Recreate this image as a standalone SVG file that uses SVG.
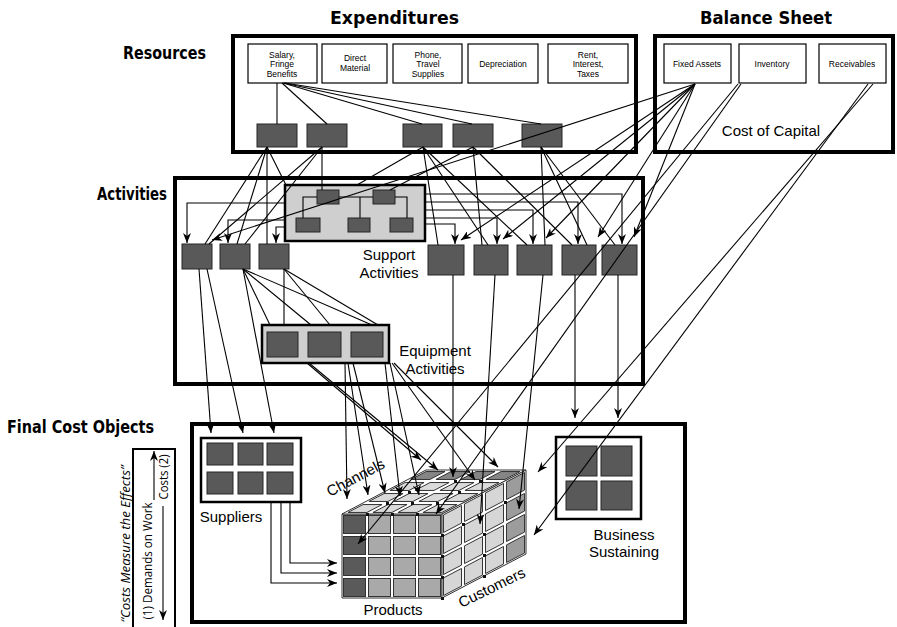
<svg xmlns="http://www.w3.org/2000/svg" width="897" height="627" viewBox="0 0 897 627">
<defs>
<style>
.box{fill:#fff;stroke:#000;stroke-width:4}
.item{fill:#fff;stroke:#000;stroke-width:1.2}
.dk{fill:#595959;stroke:#262626;stroke-width:1}
.grp{fill:#cfcfcf;stroke:#000;stroke-width:2.5}
.wgrp{fill:#fff;stroke:#000;stroke-width:2.5}
.thin{fill:none;stroke:#000;stroke-width:2}
.sm{font-family:"Liberation Sans","Open Sans",sans-serif;font-size:8.5px;text-anchor:middle;fill:#000}
.lbl{font-family:"Liberation Sans","Open Sans",sans-serif;font-size:15px;text-anchor:middle;fill:#000}
.side{font-family:"Open Sans","Noto Sans",sans-serif;font-size:13px;text-anchor:middle;fill:#000}
.ttl{font-family:"DejaVu Sans Condensed","DejaVu Sans",sans-serif;font-weight:bold;font-size:17px;fill:#000}
.face{fill:#fff;stroke:#333;stroke-width:1}
.cl{stroke:#333;stroke-width:1;vector-effect:non-scaling-stroke}
.c path{fill:none;stroke:#000;stroke-width:1.1}
.c .a{marker-end:url(#ah)}
.dot{fill:#111}
</style>
<marker id="ah" viewBox="0 0 10 8" refX="10" refY="4" markerWidth="10" markerHeight="8" orient="auto" markerUnits="userSpaceOnUse">
<path d="M0,0 L10,4 L0,8 L3,4 z" fill="#000"/>
</marker>
</defs>
<rect width="897" height="627" fill="#fff"/>

<!-- Titles -->
<g id="titles">
<text class="ttl" x="330" y="24" textLength="129" lengthAdjust="spacingAndGlyphs">Expenditures</text>
<text class="ttl" x="700" y="24" textLength="132" lengthAdjust="spacingAndGlyphs">Balance Sheet</text>
<text class="ttl" x="123" y="59" textLength="83" lengthAdjust="spacingAndGlyphs">Resources</text>
<text class="ttl" x="97" y="200" textLength="70" lengthAdjust="spacingAndGlyphs">Activities</text>
<text class="ttl" x="7" y="433" textLength="147" lengthAdjust="spacingAndGlyphs">Final Cost Objects</text>
</g>

<!-- Resources -->
<g id="resources">
<rect class="box" x="233" y="36" width="403" height="116"/>
<rect class="item" x="248" y="44" width="69" height="39"/>
<text class="sm" x="282" y="57.5">Salary,</text>
<text class="sm" x="282" y="67">Fringe</text>
<text class="sm" x="282" y="76.5">Benefits</text>
<rect class="item" x="322" y="44" width="65" height="39"/>
<text class="sm" x="355" y="61">Direct</text>
<text class="sm" x="355" y="70.5">Material</text>
<rect class="item" x="393" y="44" width="69" height="39"/>
<text class="sm" x="428" y="57.5">Phone,</text>
<text class="sm" x="428" y="67">Travel</text>
<text class="sm" x="428" y="76.5">Supplies</text>
<rect class="item" x="468" y="44" width="70" height="39"/>
<text class="sm" x="503" y="67" font-size="9.5">Depreciation</text>
<rect class="item" x="548" y="44" width="80" height="39"/>
<text class="sm" x="588" y="57.5">Rent,</text>
<text class="sm" x="588" y="67">Interest,</text>
<text class="sm" x="588" y="76.5">Taxes</text>
<rect class="dk" x="257" y="124" width="40" height="23"/>
<rect class="dk" x="307" y="124" width="40" height="23"/>
<rect class="dk" x="403" y="124" width="39" height="23"/>
<rect class="dk" x="453" y="124" width="40" height="23"/>
<rect class="dk" x="522" y="124" width="40" height="23"/>
</g>

<!-- Balance sheet -->
<g id="balance-sheet">
<rect class="box" x="655" y="36" width="238" height="116"/>
<rect class="item" x="664" y="44" width="67" height="39"/>
<text class="sm" x="697" y="67" font-size="9.5">Fixed Assets</text>
<rect class="item" x="739" y="44" width="67" height="39"/>
<text class="sm" x="772" y="67" font-size="9.5">Inventory</text>
<rect class="item" x="819" y="44" width="67" height="39"/>
<text class="sm" x="852" y="67" font-size="9.5">Receivables</text>
<text class="lbl" x="771" y="136">Cost of Capital</text>
</g>

<!-- Activities -->
<g id="activities">
<rect class="box" x="175" y="178" width="468" height="206"/>
<rect class="dk" x="182" y="244" width="30" height="25"/>
<rect class="dk" x="220" y="244" width="30" height="25"/>
<rect class="dk" x="259" y="244" width="30" height="25"/>
<rect class="dk" x="428" y="245" width="36" height="30"/>
<rect class="dk" x="474" y="245" width="34" height="30"/>
<rect class="dk" x="517" y="245" width="35" height="30"/>
<rect class="dk" x="562" y="245" width="34" height="30"/>
<rect class="dk" x="602" y="245" width="35" height="30"/>
</g>

<g id="support-activities">
<rect class="grp" x="285" y="185" width="140" height="56"/>
<rect class="dk" x="317" y="190" width="22" height="14"/>
<rect class="dk" x="373" y="190" width="22" height="14"/>
<rect class="dk" x="296" y="218" width="24" height="14"/>
<rect class="dk" x="348" y="218" width="22" height="14"/>
<rect class="dk" x="390" y="218" width="23" height="14"/>
<text class="lbl" x="389" y="260">Support</text>
<text class="lbl" x="389" y="278">Activities</text>
</g>

<g id="equipment-activities">
<rect class="grp" x="262" y="325" width="127" height="38"/>
<rect class="dk" x="267" y="332" width="31" height="25"/>
<rect class="dk" x="308" y="332" width="33" height="25"/>
<rect class="dk" x="351" y="332" width="32" height="25"/>
<text class="lbl" x="435" y="356">Equipment</text>
<text class="lbl" x="435" y="374">Activities</text>
</g>

<!-- Final cost objects -->
<g id="final-cost-objects">
<rect class="box" x="192" y="424" width="493" height="198"/>
</g>

<g id="suppliers">
<rect class="wgrp" x="201" y="438" width="100" height="64"/>
<rect class="dk" x="207" y="443" width="26" height="22"/>
<rect class="dk" x="238" y="443" width="25" height="22"/>
<rect class="dk" x="267" y="443" width="26" height="22"/>
<rect class="dk" x="207" y="472" width="26" height="22"/>
<rect class="dk" x="238" y="472" width="25" height="22"/>
<rect class="dk" x="267" y="472" width="26" height="22"/>
<text class="lbl" x="231" y="522">Suppliers</text>
</g>

<g id="business-sustaining">
<rect class="wgrp" x="556" y="437" width="85" height="82"/>
<rect class="dk" x="566" y="446" width="31" height="30"/>
<rect class="dk" x="601" y="446" width="31" height="30"/>
<rect class="dk" x="566" y="481" width="31" height="29"/>
<rect class="dk" x="601" y="481" width="31" height="29"/>
<text class="lbl" x="624" y="540">Business</text>
<text class="lbl" x="624" y="557">Sustaining</text>
</g>

<g id="cube">
<polygon class="face" points="342,514 442,514 442,598 342,598"/>
<polygon class="face" points="342,514 426,470 526,470 442,514"/>
<polygon class="face" points="442,514 526,470 526,554 442,598"/>
<g stroke="#333" stroke-width="1">
<rect x="343.5" y="515.5" width="22" height="18" fill="#5a5a5a"/>
<rect x="343.5" y="536.5" width="22" height="18" fill="#5a5a5a"/>
<rect x="343.5" y="557.5" width="22" height="18" fill="#5a5a5a"/>
<rect x="343.5" y="578.5" width="22" height="18" fill="#5a5a5a"/>
<rect x="368.5" y="515.5" width="22" height="18" fill="#a9a9a9"/>
<rect x="368.5" y="536.5" width="22" height="18" fill="#a9a9a9"/>
<rect x="368.5" y="557.5" width="22" height="18" fill="#a9a9a9"/>
<rect x="368.5" y="578.5" width="22" height="18" fill="#a9a9a9"/>
<rect x="393.5" y="515.5" width="22" height="18" fill="#a9a9a9"/>
<rect x="393.5" y="536.5" width="22" height="18" fill="#a9a9a9"/>
<rect x="393.5" y="557.5" width="22" height="18" fill="#a9a9a9"/>
<rect x="393.5" y="578.5" width="22" height="18" fill="#a9a9a9"/>
<rect x="418.5" y="515.5" width="22" height="18" fill="#a9a9a9"/>
<rect x="418.5" y="536.5" width="22" height="18" fill="#a9a9a9"/>
<rect x="418.5" y="557.5" width="22" height="18" fill="#a9a9a9"/>
<rect x="418.5" y="578.5" width="22" height="18" fill="#a9a9a9"/>
</g>
<g transform="matrix(25,0,21,-11,342,514)">
<rect class="cl" x="0.12" y="0.14" width="0.76" height="0.72" fill="#dadada"/>
<rect class="cl" x="1.12" y="0.14" width="0.76" height="0.72" fill="#dadada"/>
<rect class="cl" x="2.12" y="0.14" width="0.76" height="0.72" fill="#dadada"/>
<rect class="cl" x="3.12" y="0.14" width="0.76" height="0.72" fill="#dadada"/>
<rect class="cl" x="0.12" y="1.14" width="0.76" height="0.72" fill="#dadada"/>
<rect class="cl" x="1.12" y="1.14" width="0.76" height="0.72" fill="#dadada"/>
<rect class="cl" x="2.12" y="1.14" width="0.76" height="0.72" fill="#dadada"/>
<rect class="cl" x="3.12" y="1.14" width="0.76" height="0.72" fill="#dadada"/>
<rect class="cl" x="0.12" y="2.14" width="0.76" height="0.72" fill="#dadada"/>
<rect class="cl" x="1.12" y="2.14" width="0.76" height="0.72" fill="#dadada"/>
<rect class="cl" x="2.12" y="2.14" width="0.76" height="0.72" fill="#dadada"/>
<rect class="cl" x="3.12" y="2.14" width="0.76" height="0.72" fill="#dadada"/>
<rect class="cl" x="0.12" y="3.14" width="0.76" height="0.72" fill="#858585"/>
<rect class="cl" x="1.12" y="3.14" width="0.76" height="0.72" fill="#858585"/>
<rect class="cl" x="2.12" y="3.14" width="0.76" height="0.72" fill="#858585"/>
<rect class="cl" x="3.12" y="3.14" width="0.76" height="0.72" fill="#858585"/>
</g>
<g transform="matrix(21,-11,0,21,442,514)">
<rect class="cl" x="0.07" y="0.08" width="0.86" height="0.84" fill="#d6d6d6"/>
<rect class="cl" x="0.07" y="1.08" width="0.86" height="0.84" fill="#d6d6d6"/>
<rect class="cl" x="0.07" y="2.08" width="0.86" height="0.84" fill="#d6d6d6"/>
<rect class="cl" x="0.07" y="3.08" width="0.86" height="0.84" fill="#d6d6d6"/>
<rect class="cl" x="1.07" y="0.08" width="0.86" height="0.84" fill="#d6d6d6"/>
<rect class="cl" x="1.07" y="1.08" width="0.86" height="0.84" fill="#d6d6d6"/>
<rect class="cl" x="1.07" y="2.08" width="0.86" height="0.84" fill="#d6d6d6"/>
<rect class="cl" x="1.07" y="3.08" width="0.86" height="0.84" fill="#d6d6d6"/>
<rect class="cl" x="2.07" y="0.08" width="0.86" height="0.84" fill="#d6d6d6"/>
<rect class="cl" x="2.07" y="1.08" width="0.86" height="0.84" fill="#d6d6d6"/>
<rect class="cl" x="2.07" y="2.08" width="0.86" height="0.84" fill="#d6d6d6"/>
<rect class="cl" x="2.07" y="3.08" width="0.86" height="0.84" fill="#d6d6d6"/>
<rect class="cl" x="3.07" y="0.08" width="0.86" height="0.84" fill="#9c9c9c"/>
<rect class="cl" x="3.07" y="1.08" width="0.86" height="0.84" fill="#9c9c9c"/>
<rect class="cl" x="3.07" y="2.08" width="0.86" height="0.84" fill="#9c9c9c"/>
<rect class="cl" x="3.07" y="3.08" width="0.86" height="0.84" fill="#9c9c9c"/>
</g>
<g class="dot">
<rect x="366" y="513" width="3" height="3"/><rect x="391" y="513" width="3" height="3"/><rect x="416" y="513" width="3" height="3"/>
<rect x="386" y="502" width="3" height="3"/><rect x="411" y="502" width="3" height="3"/><rect x="436" y="502" width="3" height="3"/>
<rect x="408" y="491" width="3" height="3"/><rect x="458" y="491" width="3" height="3"/>
<rect x="454" y="480" width="3" height="3"/><rect x="479" y="480" width="3" height="3"/>
<rect x="441" y="534" width="3" height="3"/><rect x="441" y="555" width="3" height="3"/><rect x="441" y="576" width="3" height="3"/><rect x="441" y="597" width="3" height="3"/>
<rect x="462" y="523" width="3" height="3"/><rect x="483" y="533" width="3" height="3"/><rect x="483" y="554" width="3" height="3"/><rect x="483" y="575" width="3" height="3"/>
<rect x="504" y="501" width="3" height="3"/>
</g>
<text class="lbl" transform="translate(358,482) rotate(-28)">Channels</text>
<text class="lbl" x="393" y="615">Products</text>
<text class="lbl" transform="translate(494,592) rotate(-26)">Customers</text>
</g>

<!-- Side legend -->
<g id="legend">
<rect class="thin" x="133" y="449" width="42" height="185"/>
<text class="side" transform="translate(168,477) rotate(-90)" textLength="45" lengthAdjust="spacingAndGlyphs">Costs (2)</text>
<text class="side" transform="translate(152,561) rotate(-90)" textLength="117" lengthAdjust="spacingAndGlyphs">(1) Demands on Work</text>
<text class="side" transform="translate(130,544) rotate(-90)" font-style="italic" textLength="157" lengthAdjust="spacingAndGlyphs">“Costs Measure the Effects”</text>
</g>

<!-- Connectors -->
<g id="connectors" class="c">
<path d="M277,83 V124"/>
<path d="M282,83 L327,124"/>
<path d="M283,83 L422,124"/>
<path d="M284,83 L472,124"/>
<path d="M285,83 L541,124"/>

<path d="M317,197 H303 V218"/>
<path d="M339,197 H373"/>
<path d="M360,197 V218"/>
<path d="M395,197 H407 V218"/>

<path d="M267,147 L205,244"/>
<path d="M267,147 L237,244"/>
<path d="M267,147 V244"/>
<path d="M267,147 L286,185"/>
<path d="M322,147 L209,244"/>
<path d="M322,147 L245,244"/>
<path d="M322,147 V190"/>
<path d="M423,147 L357,185"/>
<path d="M423,147 L438,245"/>
<path d="M423,147 L488,245"/>
<path d="M423,147 L527,245"/>
<path d="M473,147 L390,190"/>
<path d="M473,147 L482,245"/>
<path d="M473,147 L572,245"/>
<path d="M541,147 L545,245"/>
<path d="M541,147 L587,245"/>
<path d="M541,147 L615,245"/>

<path class="a" d="M285,203 H187 V243"/>
<path class="a" d="M285,220 H228 V243"/>
<path class="a" d="M285,227 H276 V243"/>
<path class="a" d="M425,194 H622 V244"/>
<path class="a" d="M425,202 H578 V244"/>
<path class="a" d="M425,210 H533 V244"/>
<path class="a" d="M425,218 H497 V244"/>
<path class="a" d="M425,224 H455 V244"/>

<path class="a" d="M695,84 L212,240"/>
<path class="a" d="M695,84 L461,240"/>
<path class="a" d="M695,84 L503,239"/>
<path class="a" d="M695,84 L546,238"/>
<path class="a" d="M695,84 L598,237"/>
<path class="a" d="M695,84 L634,237"/>

<path class="a" d="M741,84 L436,514"/>
<path class="a" d="M738,84 L358,544"/>
<path class="a" d="M873,84 L538,472"/>
<path class="a" d="M868,84 L534,535"/>

<path class="a" d="M199,269 L211,433"/>
<path class="a" d="M207,269 L243,433"/>
<path class="a" d="M243,269 L274,433"/>

<path d="M243,269 L270,325"/>
<path d="M243,269 L311,325"/>
<path d="M243,269 L372,325"/>
<path d="M284,269 V325"/>
<path d="M284,269 L330,325"/>
<path d="M284,269 L378,325"/>

<path class="a" d="M307,363 L421,460"/>
<path class="a" d="M309,363 L438,470"/>
<path class="a" d="M345,363 L347,499"/>
<path class="a" d="M348,363 L368,495"/>
<path class="a" d="M353,363 L385,493"/>
<path class="a" d="M385,363 L400,496"/>
<path class="a" d="M390,363 L419,495"/>
<path class="a" d="M392,363 L475,480"/>
<path class="a" d="M394,363 L498,467"/>

<path class="a" d="M453,275 V477"/>
<path class="a" d="M495,275 L480,524"/>
<path class="a" d="M543,275 L519,509"/>
<path class="a" d="M575,275 V418"/>
<path class="a" d="M618,275 V418"/>

<path class="a" d="M271,502 V583 H337"/>
<path class="a" d="M281,502 V573 H337"/>
<path class="a" d="M290,502 V563 H337"/>

<path class="a" d="M154,500 V451"/>
<path class="a" d="M163,506 V620"/>
</g>
</svg>
